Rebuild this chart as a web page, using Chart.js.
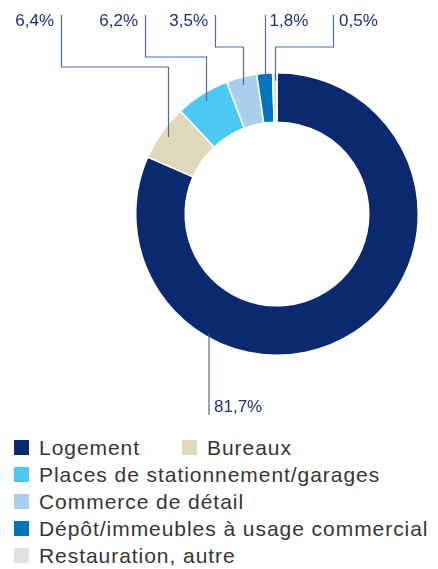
<!DOCTYPE html>
<html>
<head>
<meta charset="utf-8">
<script src="https://cdn.jsdelivr.net/npm/chart.js@4/dist/chart.umd.min.js"></script>
<style>
  html, body { margin: 0; padding: 0; background: #fff; }
  #wrap { width: 438px; height: 569px; position: relative; }
  #chart-box { width: 438px; height: 434px; position: relative; }
  #legend { position: absolute; left: 14px; top: 434px; font-family: "Liberation Sans", Arial, sans-serif; font-size: 21px; letter-spacing: 0.95px; color: #363636; }
  .row { display: flex; height: 27px; align-items: center; }
  .item { display: flex; align-items: center; white-space: nowrap; }
  .item .sw { width: 15px; height: 15px; margin-right: 10px; flex: none; }
  .row .item:first-child.pair { width: 168px; }
</style>
</head>
<body>
<div id="wrap">
  <div id="chart-box"><canvas id="donut"></canvas></div>
  <div id="legend"></div>
</div>
<script>
(function() {
  'use strict';

  // ---- Data ----
  const categories = ['Logement', 'Bureaux', 'Places de stationnement/garages', 'Commerce de détail', 'Dépôt/immeubles à usage commercial', 'Restauration, autre'];
  const shares = [81.7, 6.4, 6.2, 3.5, 1.8, 0.5];
  const shareLabels = ['81,7%', '6,4%', '6,2%', '3,5%', '1,8%', '0,5%'];
  const colors = ['#0B296E', '#DFD9BC', '#4CC9F2', '#A8CFEE', '#0076BD', '#DDE3E4'];

  // ---- Callout layout (label placement only) ----
  const callouts = [
    { anchorX: 209, lineBottom: 415, textX: 214, textY: 407, align: 'left' },
    { lineX: 61, elbowY: 67, textX: 54, align: 'right' },
    { lineX: 145, elbowY: 57, textX: 138, align: 'right' },
    { lineX: 215, elbowY: 47, textX: 208, align: 'right' },
    { lineX: null, elbowY: null, textGap: 4, align: 'left' },
    { lineX: 333, elbowY: 47, textX: 339, align: 'left' }
  ];
  const topY = 15;
  const topTextY = 21;
  const lineColor = '#5069A0';
  const textColor = '#1C3272';

  const calloutPlugin = {
    id: 'callouts',
    afterDatasetsDraw(chart) {
      const ctx = chart.ctx;
      const meta = chart.getDatasetMeta(0);
      ctx.save();
      ctx.strokeStyle = lineColor;
      ctx.lineWidth = 1.2;
      ctx.fillStyle = textColor;
      ctx.font = '17px "Liberation Sans", Arial, sans-serif';
      ctx.textBaseline = 'middle';

      meta.data.forEach((arc, i) => {
        const c = callouts[i];
        const p = arc.getProps(['x', 'y', 'startAngle', 'endAngle', 'outerRadius'], true);
        const mid = (p.startAngle + p.endAngle) / 2;
        ctx.beginPath();
        if (c.anchorX != null) {
          // line leaves the ring edge straight downward
          const dx = c.anchorX - p.x;
          const ey = p.y + Math.sqrt(p.outerRadius * p.outerRadius - dx * dx);
          ctx.moveTo(c.anchorX, ey - 4);
          ctx.lineTo(c.anchorX, c.lineBottom);
          ctx.stroke();
          ctx.textAlign = c.align;
          ctx.fillText(shareLabels[i], c.textX, c.textY);
          return;
        }
        const r = p.outerRadius - 8;
        const ax = Math.round(p.x + Math.cos(mid) * r) + 0.5;
        const ay = p.y + Math.sin(mid) * r;
        ctx.moveTo(ax, ay);
        let lx = ax;
        if (c.elbowY != null) {
          ctx.lineTo(ax, c.elbowY);
          lx = c.lineX + 0.5;
          ctx.lineTo(lx, c.elbowY);
        }
        ctx.lineTo(lx, topY);
        ctx.stroke();
        ctx.textAlign = c.align;
        const tx = c.textX != null ? c.textX : lx + c.textGap;
        ctx.fillText(shareLabels[i], tx, topTextY);
      });
      ctx.restore();
    }
  };

  new Chart(document.getElementById('donut'), {
    type: 'doughnut',
    data: {
      labels: categories,
      datasets: [{
        data: shares,
        backgroundColor: colors,
        borderColor: '#ffffff',
        borderWidth: 1.5
      }]
    },
    options: {
      responsive: true,
      maintainAspectRatio: false,
      animation: false,
      cutout: '65%',
      layout: { padding: { left: 135, right: 19, top: 72, bottom: 78 } },
      plugins: { legend: { display: false }, tooltip: { enabled: false } }
    },
    plugins: [calloutPlugin]
  });

  // ---- Legend (HTML) ----
  const legend = document.getElementById('legend');
  const rows = [[0, 1], [2], [3], [4], [5]];
  rows.forEach(r => {
    const row = document.createElement('div');
    row.className = 'row';
    r.forEach(i => {
      const item = document.createElement('div');
      item.className = 'item' + (r.length > 1 ? ' pair' : '');
      item.innerHTML = `<span class="sw" style="background:${colors[i]}"></span><span>${categories[i]}</span>`;
      row.appendChild(item);
    });
    legend.appendChild(row);
  });
})();
</script>
</body>
</html>
